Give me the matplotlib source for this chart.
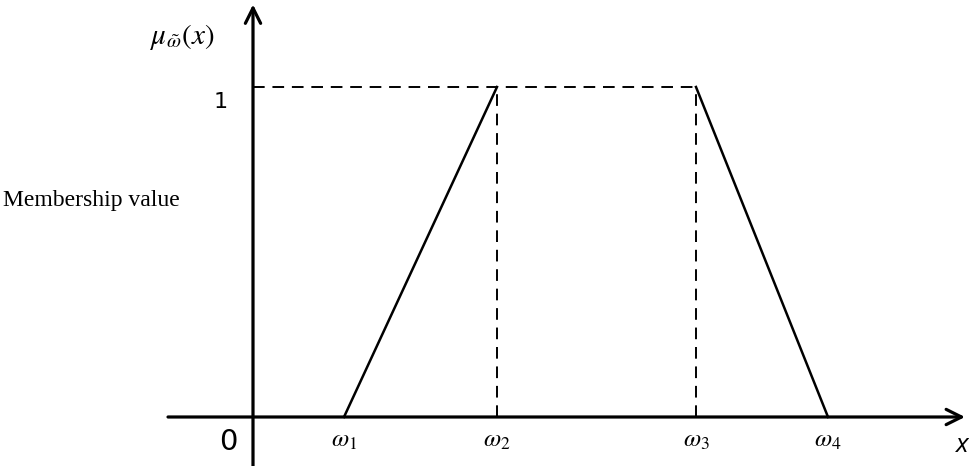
import matplotlib
matplotlib.use("Agg")
import matplotlib.pyplot as plt

# Data
omega_x = [0.91, 2.44, 4.43, 5.75]
membership = [0, 1, 1, 0]
omega_labels = [r"$\omega_1$", r"$\omega_2$", r"$\omega_3$", r"$\omega_4$"]
y_tick_label = "1"
origin_label = "0"
x_axis_label = "x"
y_axis_label = r"$\mu_{\tilde{\omega}}(x)$"
side_label = "Membership value"

plt.rcParams["mathtext.fontset"] = "stix"

fig = plt.figure(figsize=(9.69, 4.66), dpi=100)
ax = fig.add_axes([0, 0, 1, 1])
ax.set_xlim(-2.53, 7.16)
ax.set_ylim(-0.1485, 1.2636)
ax.axis("off")

# axes arrows
ax.annotate("", xy=(7.12, 0), xytext=(-0.85, 0),
            arrowprops=dict(arrowstyle="->,head_length=1.1,head_width=0.55",
                            lw=2.3, color="black", shrinkA=0, shrinkB=0))
ax.annotate("", xy=(0, 1.25), xytext=(0, -0.148),
            arrowprops=dict(arrowstyle="->,head_length=1.1,head_width=0.55",
                            lw=2.3, color="black", shrinkA=0, shrinkB=0))

# trapezoid slopes (solid)
ax.plot(omega_x[0:2], membership[0:2], color="black", lw=1.8)
ax.plot(omega_x[2:4], membership[2:4], color="black", lw=1.8)

# dashed guides
dash = (0, (6, 4))
ax.plot([0, omega_x[2]], [membership[1], membership[2]], color="black", lw=1.4, linestyle=dash)
for xv in (omega_x[1], omega_x[2]):
    ax.plot([xv, xv], [0, 1], color="black", lw=1.4, linestyle=dash)

# labels
for xv, lab in zip(omega_x, omega_labels):
    ax.text(xv, -0.07, lab, ha="center", va="center", fontsize=18)
ax.text(-0.25, -0.075, origin_label, ha="center", va="center", fontsize=21,
        family="DejaVu Sans")
ax.text(-0.32, 0.955, y_tick_label, ha="center", va="center", fontsize=16,
        family="DejaVu Sans")
ax.text(7.09, -0.085, x_axis_label, ha="center", va="center", fontsize=19,
        family="Open Sans", style="italic")
ax.text(-0.71, 1.15, y_axis_label, ha="center", va="center", fontsize=21)
ax.text(-2.50, 0.655, side_label, ha="left", va="center", fontsize=17,
        family="Liberation Serif")

fig.savefig("out.png", dpi=100)
